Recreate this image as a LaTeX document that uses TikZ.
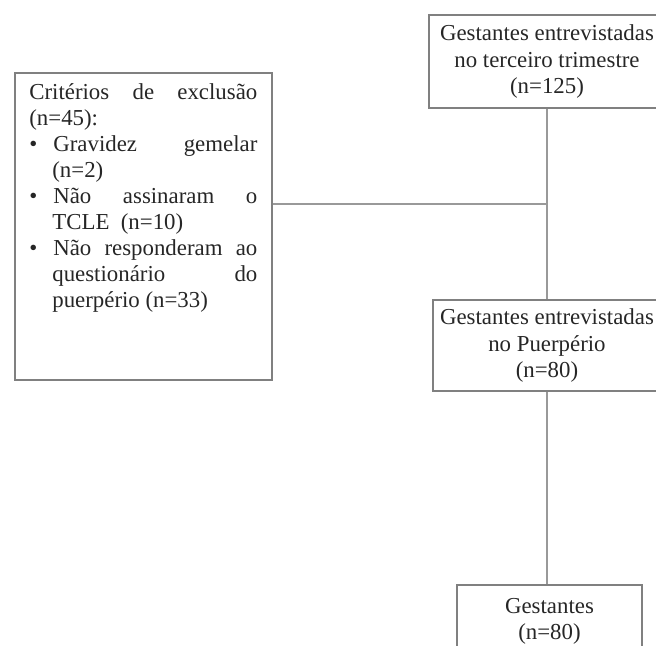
\documentclass[tikz,border=0pt]{standalone}
\usepackage{fontspec}
\setmainfont{Liberation Serif}
\usetikzlibrary{positioning}

\begin{document}
\fontsize{13}{14.8}\selectfont
\begin{tikzpicture}[
  caixa/.style={draw=black!50, line width=0.8pt, align=center, inner sep=0pt, text=black!85},
  linha/.style={draw=black!40, line width=0.6pt}]
\useasboundingbox (0,0) rectangle (13.12,-12.92);
\clip (0,0) rectangle (13.12,-12.92);
% caixas do fluxo
\node[caixa, minimum width=4.72cm, minimum height=1.86cm] (terc) at (10.94,-1.23) {Gestantes entrevistadas\\no terceiro trimestre\\(n=125)};
\node[caixa, minimum width=4.56cm, minimum height=1.82cm] (puer) at (10.94,-6.91) {Gestantes entrevistadas\\no Puerpério\\(n=80)};
\node[caixa, minimum width=3.70cm, minimum height=1.44cm] (final) at (10.99,-12.42) {Gestantes\\(n=80)};
% criterios de exclusao
\node[caixa, minimum width=5.14cm, minimum height=6.14cm] (excl) at (2.87,-4.53) {};
\node[anchor=north west, text width=4.56cm, align=justify, inner sep=0pt, text=black!85] (excltxt) at (0.58,-1.66) {%
Critérios de exclusão\linebreak (n=45):
\begin{list}{\textbullet}{\setlength\leftmargin{0.46cm}\setlength\labelwidth{0.14cm}\setlength\labelsep{0.32cm}%
  \setlength\itemsep{0pt}\setlength\parsep{0pt}\setlength\topsep{0pt}\setlength\partopsep{0pt}}
\item Gravidez gemelar\linebreak (n=2)
\item Não assinaram o\linebreak TCLE \ (n=10)
\item Não responderam ao\linebreak questionário do\linebreak puerpério (n=33)
\end{list}};
% ligacoes
\coordinate (jn) at (terc.south |- 0,-4.08);
\draw[linha] (terc.south) -- (puer.north);
\draw[linha] (excl.east |- jn) -- (jn);
\draw[linha] (puer.south) -- (puer.south |- final.north);
\end{tikzpicture}
\end{document}
